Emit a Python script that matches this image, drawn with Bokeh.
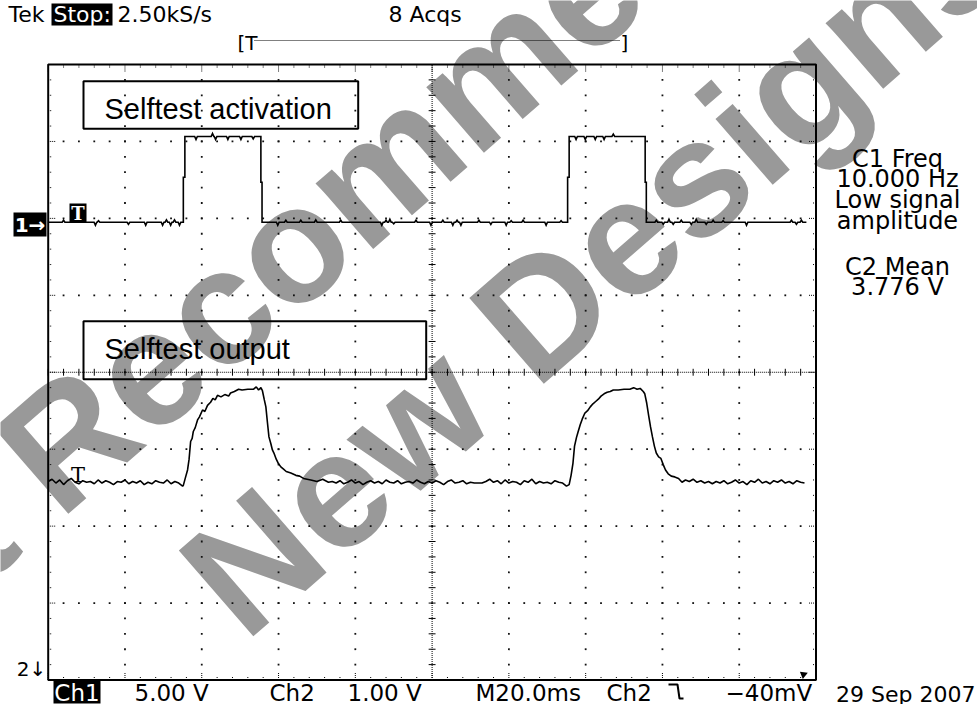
import numpy as np
from bokeh.plotting import figure
from bokeh.models import Range1d, Label
from bokeh.embed import file_html
from bokeh.resources import INLINE

# ---------------- data ----------------
T_DIV_MS = 20.0          # M20.0ms
CH1_V_DIV = 5.0          # Ch1 5.00 V
CH2_V_DIV = 1.0          # Ch2 1.00 V
N_XDIV, N_YDIV = 10, 8

# Ch1 : selftest activation (volts vs ms) - step corners
CH1_LEVEL_T = [0.0, 35.2, 35.2, 35.6, 35.6, 55.4, 55.4, 55.7, 55.7,
               135.3, 135.3, 135.7, 135.7, 155.5, 155.5, 155.8, 155.8, 197.5]
CH1_LEVEL_V = [0.0, 0.0, 2.92, 2.92, 5.57, 5.57, 2.6, 2.6, 0.0,
               0.0, 2.92, 2.92, 5.57, 5.57, 2.6, 2.6, 0.0, 0.0]
# small glitches on the flat parts (time ms, deviation V)
CH1_GLITCH_T = [4.0, 12.3, 13.1, 20.9, 25.4, 29.8, 30.8, 31.9, 32.9, 34.2,
                38.5, 42.8, 43.6, 46.8, 50.2, 53.4,
                59.8, 61.9, 65.8, 69.7, 76.2, 86.9, 88.0, 89.0, 90.0, 95.8, 99.7,
                102.8, 105.4, 106.5, 107.5, 112.2, 115.3, 119.3, 120.6, 123.7, 129.7, 133.6,
                137.5, 139.9, 142.5, 144.8, 147.2,
                158.4, 160.2, 161.7, 162.8, 164.9, 167.5, 168.8, 171.4, 173.2, 175.8,
                181.9, 193.6, 194.9, 196.2]
CH1_GLITCH_DV = [0.13, -0.2, 0.1, -0.13, -0.2, -0.2, 0.15, -0.2, 0.15, -0.2,
                 -0.2, 0.2, -0.2, -0.2, -0.2, -0.15,
                 -0.2, 0.13, 0.13, 0.15, 0.13, -0.2, 0.13, 0.2, -0.1, 0.13, -0.2,
                 0.13, -0.2, 0.13, -0.2, 0.13, -0.15, -0.2, 0.1, 0.13, -0.2, 0.1,
                 -0.2, -0.2, -0.2, -0.2, 0.15,
                 0.13, -0.13, 0.2, -0.13, 0.13, -0.15, 0.2, -0.13, 0.13, 0.1,
                 -0.2, 0.13, -0.13, 0.13]

# Ch2 : selftest output (volts), baseline stretches sampled every 1 ms
CH2_SAMPLE_MS = 1.0
CH2_SEG_A_T0 = 0.0
CH2_SEG_A = [3.56, 3.59, 3.54, 3.58, 3.52, 3.57, 3.60, 3.55, 3.53, 3.57, 3.55, 3.56,
             3.53, 3.58, 3.54, 3.57, 3.55, 3.52, 3.56, 3.55, 3.58, 3.53, 3.56, 3.54,
             3.57, 3.52, 3.55, 3.53, 3.57, 3.55, 3.54, 3.58, 3.53, 3.56, 3.54, 3.50]
CH2_PULSE1_T = [35.2, 35.8, 36.3, 36.7, 37.1, 37.5, 37.8, 38.3, 38.9, 39.4, 40.2, 40.8,
                41.5, 42.3, 42.9, 43.5, 44.1, 45.0, 46.0, 47.0, 47.5, 48.5, 49.6, 50.5,
                52.0, 53.5, 54.2, 54.8, 55.4, 55.8, 56.3, 56.7, 57.1, 57.5, 58.0, 58.4,
                58.8, 59.4, 60.0, 60.6, 61.3, 62.0, 63.2, 64.5, 65.5, 66.5, 68.4, 70.0,
                71.5, 73.0]
CH2_PULSE1_V = [3.51, 3.62, 3.71, 3.85, 4.08, 4.12, 4.21, 4.26, 4.36, 4.40, 4.49, 4.47,
                4.55, 4.59, 4.64, 4.62, 4.68, 4.66, 4.69, 4.67, 4.71, 4.73, 4.76, 4.75,
                4.76, 4.76, 4.79, 4.75, 4.78, 4.74, 4.62, 4.53, 4.33, 4.14, 4.05, 3.97,
                3.93, 3.85, 3.79, 3.75, 3.72, 3.69, 3.67, 3.64, 3.63, 3.60, 3.58, 3.56,
                3.59, 3.55]
CH2_SEG_B_T0 = 74.0
CH2_SEG_B = [3.56, 3.54, 3.57, 3.53, 3.55, 3.58, 3.54, 3.56, 3.52, 3.55, 3.57, 3.54,
             3.56, 3.53, 3.58, 3.55, 3.54, 3.57, 3.53, 3.55, 3.56, 3.54, 3.58, 3.55,
             3.53, 3.56, 3.54, 3.57, 3.55, 3.52, 3.56, 3.58, 3.54, 3.55, 3.57, 3.53,
             3.55, 3.54, 3.54, 3.54, 3.56, 3.59, 3.55, 3.57, 3.53, 3.58, 3.54, 3.56,
             3.55, 3.52, 3.57, 3.55, 3.59, 3.53, 3.56, 3.54, 3.55, 3.53, 3.57, 3.55,
             3.54, 3.50]
CH2_PULSE2_T = [135.7, 136.2, 136.7, 137.1, 137.6, 138.0, 138.6, 139.1, 139.8, 140.5,
                141.2, 141.9, 142.6, 143.3, 144.0, 144.8, 145.6, 146.4, 147.2, 148.5,
                150.0, 151.5, 152.5, 153.4, 154.2, 155.0, 155.4, 155.9, 156.4, 156.9,
                157.4, 157.9, 158.4, 159.0, 159.6, 160.2, 160.8, 161.5, 162.3, 163.2,
                164.2, 165.1, 166.0, 167.0, 168.0, 169.0, 170.0, 171.0, 172.0, 173.0]
CH2_PULSE2_V = [3.52, 3.64, 3.80, 4.02, 4.13, 4.20, 4.30, 4.37, 4.45, 4.48,
                4.53, 4.57, 4.60, 4.63, 4.67, 4.70, 4.72, 4.73, 4.75, 4.75,
                4.76, 4.76, 4.78, 4.76, 4.77, 4.73, 4.70, 4.58, 4.42, 4.27,
                4.14, 4.02, 3.93, 3.88, 3.86, 3.78, 3.71, 3.66, 3.63, 3.62,
                3.60, 3.55, 3.58, 3.56, 3.59, 3.55, 3.57, 3.54, 3.56, 3.53]
CH2_SEG_C_T0 = 174.0
CH2_SEG_C = [3.56, 3.54, 3.57, 3.53, 3.55, 3.58, 3.54, 3.56, 3.52, 3.57, 3.55, 3.59,
             3.54, 3.56, 3.53, 3.57, 3.55, 3.58, 3.54, 3.56, 3.53, 3.57, 3.55, 3.54]

HEADER = ["Tek", "Stop:", "2.50kS/s", "8 Acqs"]
MEAS = ["C1 Freq", "10.000 Hz", "Low signal", "amplitude", "C2 Mean", "3.776 V"]
STATUS = ["Ch1", "5.00 V", "Ch2", "1.00 V", "M20.0ms", "Ch2", "\u221240mV", "29 Sep 2007"]
BOX_TEXTS = ["Selftest activation", "Selftest output"]
WATERMARK = ["Not Recommended for", "New Designs"]

# ---------------- layout (image pixel space) ----------------
W, H = 977, 704
X0, Y0 = 0, 0
FRAME_L, FRAME_R, FRAME_T, FRAME_B = 47.7, 815.5, 64.0, 679.5
CH1_POS = 1.95     # ground marker position (div)
CH2_POS = -4.98    # ground below screen (div)
SCOPE_FONT = "DejaVu Sans"

p = figure(width=W, height=H, output_backend="svg", toolbar_location=None, tools="",
           x_range=Range1d(X0, X0 + W), y_range=Range1d(Y0 + H, Y0),
           x_axis_location=None, y_axis_location=None, min_border=0)
p.grid.visible = False
p.outline_line_color = None
p.background_fill_color = "white"
p.border_fill_color = "white"

px_ms = (FRAME_R - FRAME_L) / (N_XDIV * T_DIV_MS)
px_div = (FRAME_B - FRAME_T) / N_YDIV
cy = (FRAME_T + FRAME_B) / 2
t_lo, t_hi = (X0 - FRAME_L) / px_ms, (X0 + W - FRAME_L) / px_ms
d_lo, d_hi = (cy - (Y0 + H)) / px_div, (cy - Y0) / px_div
p.extra_x_ranges = {"t": Range1d(t_lo, t_hi)}
p.extra_y_ranges = {
    "d": Range1d(d_lo, d_hi),
    "ch1": Range1d((d_lo - CH1_POS) * CH1_V_DIV, (d_hi - CH1_POS) * CH1_V_DIV),
    "ch2": Range1d((d_lo - CH2_POS) * CH2_V_DIV, (d_hi - CH2_POS) * CH2_V_DIV),
}


def label(x, y, text, size, color="black", font=SCOPE_FONT, align="left",
          baseline="middle", style="normal", angle=0.0, level="annotation"):
    p.add_layout(Label(x=x, y=y, text=text, text_font=font, text_font_size=f"{size}px",
                       text_color=color, text_align=align, text_baseline=baseline,
                       text_font_style=style, angle=angle, angle_units="deg", level=level))


# ---------------- watermark (under everything) ----------------
WM_SIZE = 165
WM_ANGLE = 41.0
WM = dict(size=WM_SIZE, color="#999999", font="Liberation Sans", style="bold",
          baseline="alphabetic", angle=WM_ANGLE, level="underlay")
label(-220, 688, WATERMARK[0], **WM)
label(207, 600, WATERMARK[1], **WM)

# ---------------- graticule ----------------
span_t = N_XDIV * T_DIV_MS
minor_t = np.arange(0, span_t + 1e-9, T_DIV_MS / 5)
minor_d = np.arange(-N_YDIV / 2, N_YDIV / 2 + 1e-9, 0.2)
major_t = np.arange(1, N_XDIV) * T_DIV_MS
major_d = np.arange(-N_YDIV / 2 + 1, N_YDIV / 2)
ct = span_t / 2

dx, dy = [], []
for mt in major_t:
    if abs(mt - ct) < 1e-6:
        continue
    for md in minor_d[1:-1]:
        dx.append(mt); dy.append(md)
for md in major_d:
    if abs(md) < 1e-6:
        continue
    for mt in minor_t[1:-1]:
        dx.append(mt); dy.append(md)
p.scatter(dx, dy, marker="square", size=1.8, fill_color="#111111", line_color=None,
          x_range_name="t", y_range_name="d")

# centre lines
p.line([ct, ct], [-N_YDIV / 2, N_YDIV / 2], line_dash="1 1", line_color="black",
       line_width=1, x_range_name="t", y_range_name="d")
p.line([0, span_t], [0, 0], line_dash="1 1", line_color="black", line_width=1,
       x_range_name="t", y_range_name="d")
tk = 0.045
p.segment(x0=[ct - tk * T_DIV_MS] * len(minor_d), x1=[ct + tk * T_DIV_MS] * len(minor_d),
          y0=minor_d, y1=minor_d, line_color="black", line_width=1,
          x_range_name="t", y_range_name="d")
p.segment(x0=minor_t, x1=minor_t, y0=[-tk] * len(minor_t), y1=[tk] * len(minor_t),
          line_color="black", line_width=1, x_range_name="t", y_range_name="d")

# border ticks
bt, lt = 0.05, 0.1
is_major_t = [abs(v / T_DIV_MS - round(v / T_DIV_MS)) < 1e-6 for v in minor_t]
is_major_d = [abs(v - round(v)) < 1e-6 for v in minor_d]
ln_t = [lt if m else bt for m in is_major_t]
ln_d = [lt if m else bt for m in is_major_d]
top = N_YDIV / 2
seg_kw = dict(line_color="black", line_width=1, line_dash="1 1",
              x_range_name="t", y_range_name="d")
p.segment(x0=minor_t, x1=minor_t, y0=[top] * len(minor_t), y1=[top - l for l in ln_t], **seg_kw)
p.segment(x0=minor_t, x1=minor_t, y0=[-top] * len(minor_t), y1=[-top + l for l in ln_t], **seg_kw)
p.segment(x0=[0] * len(minor_d), x1=[l * T_DIV_MS for l in ln_d], y0=minor_d, y1=minor_d, **seg_kw)
p.segment(x0=[span_t] * len(minor_d), x1=[span_t - l * T_DIV_MS for l in ln_d],
          y0=minor_d, y1=minor_d, **seg_kw)
p.quad(left=[0], right=[span_t], bottom=[-top], top=[top], fill_color=None,
       line_color="black", line_width=2, x_range_name="t", y_range_name="d")

# ---------------- traces ----------------
n_corner = len(CH1_LEVEL_T)
rows = [(t, k, v) for k, (t, v) in enumerate(zip(CH1_LEVEL_T, CH1_LEVEL_V))]
for gt, gdv in zip(CH1_GLITCH_T, CH1_GLITCH_DV):
    for i in range(n_corner - 1):
        if CH1_LEVEL_T[i] <= gt <= CH1_LEVEL_T[i + 1] and CH1_LEVEL_V[i] == CH1_LEVEL_V[i + 1]:
            b = CH1_LEVEL_V[i]
            rows += [(gt - 0.35, i, b), (gt, i, b + gdv), (gt + 0.35, i, b)]
            break
rows.sort(key=lambda r: (r[0], r[1]))
c1_t = [r[0] for r in rows]
c1_v = [r[2] for r in rows]
p.line(c1_t, c1_v, line_color="black", line_width=1.6, line_join="miter",
       x_range_name="t", y_range_name="ch1")

c2_t = (list(CH2_SEG_A_T0 + np.arange(len(CH2_SEG_A)) * CH2_SAMPLE_MS) + CH2_PULSE1_T +
        list(CH2_SEG_B_T0 + np.arange(len(CH2_SEG_B)) * CH2_SAMPLE_MS) + CH2_PULSE2_T +
        list(CH2_SEG_C_T0 + np.arange(len(CH2_SEG_C)) * CH2_SAMPLE_MS))
c2_v = CH2_SEG_A + CH2_PULSE1_V + CH2_SEG_B + CH2_PULSE2_V + CH2_SEG_C
p.line(c2_t, c2_v, line_color="black", line_width=1.6, x_range_name="t", y_range_name="ch2")

# ---------------- annotation boxes ----------------
p.quad(left=[83, 83], right=[357.7, 425.7], top=[80.7, 320.7], bottom=[128.3, 378.7],
       fill_color=None, line_color="black", line_width=2)
label(104, 108.5, BOX_TEXTS[0], 29, font="Liberation Sans")
label(104, 348.0, BOX_TEXTS[1], 29, font="Liberation Sans")

# channel markers
p.quad(left=[13], right=[46], top=[212], bottom=[236], fill_color="black", line_color=None)
label(29.5, 224, "1\u2192", 20, color="white", align="center", style="bold")
p.quad(left=[69], right=[86], top=[203], bottom=[222], fill_color="black", line_color=None)
label(77.5, 213, "T", 18, color="white", align="center", style="bold", font="DejaVu Serif")
label(77.5, 474, "T", 21, color="black", align="center", font="DejaVu Serif")
label(31, 668, "2\u2193", 20, align="center")

# ---------------- header ----------------
label(8, 14, HEADER[0], 22)
p.quad(left=[51], right=[112], top=[3], bottom=[25], fill_color="black", line_color=None)
label(53, 14, HEADER[1], 22, color="white")
label(117, 14, HEADER[2], 22)
label(388, 14, HEADER[3], 22)
label(237, 42, "[T", 20)
label(620, 42, "]", 20)
p.line([254, 620], [40, 40], line_dash="1 1", line_color="black", line_width=1)

# ---------------- measurements ----------------
for txt, yy in zip(MEAS, [158, 178, 199, 220, 266, 286]):
    label(897, yy, txt, 24, align="center")

# ---------------- status line ----------------
p.quad(left=[53], right=[100], top=[680], bottom=[703], fill_color="black", line_color=None)
label(76.5, 692, STATUS[0], 23, color="white", align="center")
for txt, xx in zip(STATUS[1:7], [134, 269, 347, 475, 606, 725]):
    label(xx, 692, txt, 23)
p.line([668, 677, 679, 683], [684, 684, 698, 698], line_color="black", line_width=2)
label(975, 694, STATUS[7], 22, align="right")
p.scatter([803], [674], marker="triangle", size=8, angle=0.9, fill_color="black",
          line_color=None)

open("out.html", "w").write(file_html(p, INLINE))
